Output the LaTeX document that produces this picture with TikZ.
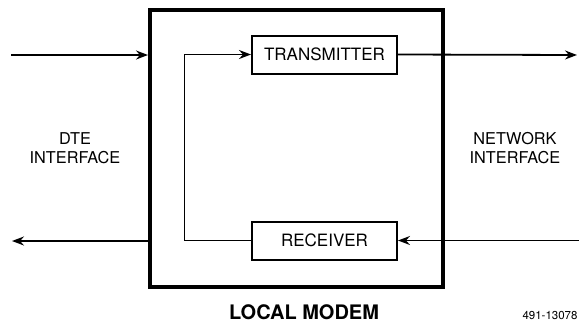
\documentclass[tikz,border=0pt]{standalone}
\usepackage{fontspec}
\setmainfont{TeX Gyre Heros}
\usepackage{tikz}
\usepackage{xcolor}
\usetikzlibrary{arrows.meta}

\begin{document}
\begin{tikzpicture}[x=1pt, y=-1pt,
    modembox/.style={draw, line width=4pt, minimum width=293pt, minimum height=277pt, inner sep=0pt},
    unitbox/.style={draw, line width=2pt, minimum width=145pt, minimum height=38pt, inner sep=0pt,
        font=\fontsize{17}{19}\selectfont},
    sig/.style={line width=1.8pt, -{Stealth[length=12pt, width=9pt, inset=4pt]}},
    iface/.style={align=center, font=\fontsize{16.3}{18.5}\selectfont}]
                    \useasboundingbox (0,0) rectangle (579,327);
                    % Local modem frame and its two units
                    \node[modembox] (modem) at (296.5,148.4) {};
                    \node[unitbox] (tx) at (324.5,54.5) {TRANSMITTER};
                    \node[unitbox] (rx) at (324.5,240.5) {RECEIVER};
                    % Free ends of the lines
                    \coordinate (dtein) at (11,55);
                    \coordinate (dteout) at (12,241);
                    \coordinate (netout) at (577,55);
                    \coordinate (netin) at (579,240.5);
                    \coordinate (loop) at (184.5,148);
                    % Signal paths
                    \draw[sig] (dtein) -- (dtein -| modem.west);
                    \draw[sig] (dteout -| modem.west) -- (dteout);
                    \draw[sig] (tx.east) -- (netout);
                    \draw[sig] (netin) -- (rx.east);
                    \draw[sig] (rx.west) -- (rx.west -| loop) -- (tx.west -| loop) -- (tx.west);
                    % Labels
                    \node[iface] (dte) at (75,148) {DTE\\INTERFACE};
                    \node[iface] (net) at (515,148) {NETWORK\\INTERFACE};
                    \node[font=\fontsize{20}{22}\selectfont\bfseries] (title) at (304,312) {LOCAL MODEM};
                    \node[font=\fontsize{11.5}{13}\selectfont] (figno) at (550,315.5) {491-13078};
                \end{tikzpicture}
\end{document}
